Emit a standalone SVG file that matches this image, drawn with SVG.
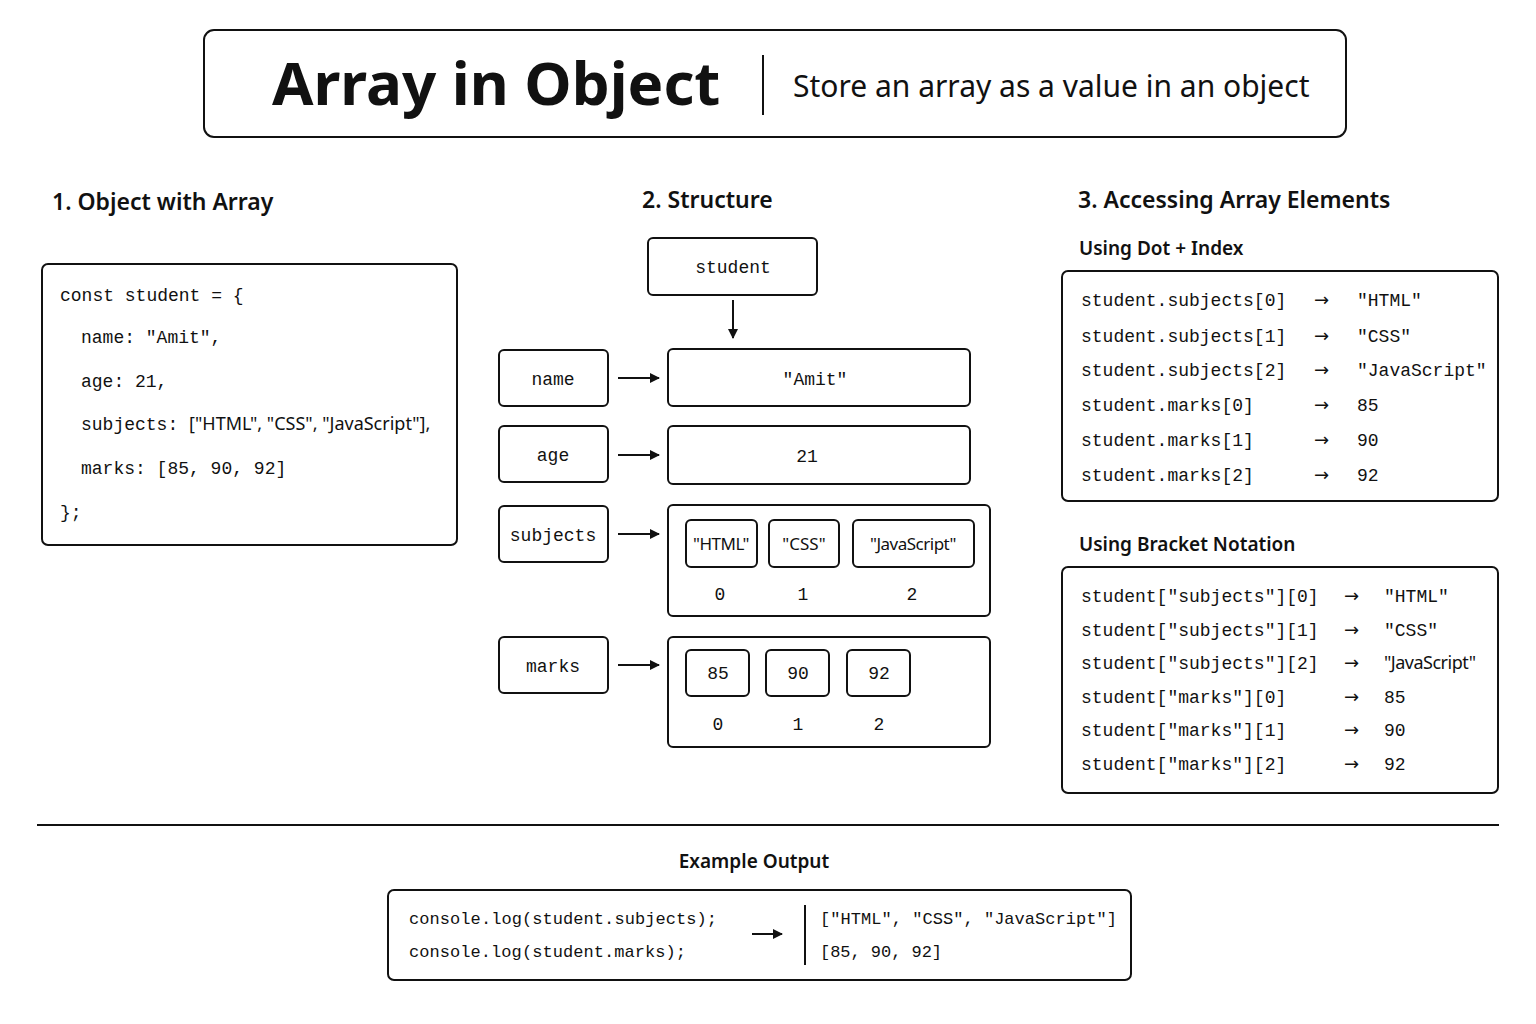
<svg xmlns="http://www.w3.org/2000/svg" width="1536" height="1024" viewBox="0 0 1536 1024">
<defs>
<marker id="ah" markerWidth="10" markerHeight="10" refX="9" refY="5" orient="auto" markerUnits="userSpaceOnUse"><path d="M0,0 L10,5 L0,10 z" fill="#111"/></marker>
<style>
.b{fill:#fff;stroke:#111;stroke-width:2}
.m{font-family:"Liberation Mono","DejaVu Sans Mono",monospace;font-size:18px;fill:#111}
.o{font-size:17px}
.s{font-family:"Noto Sans","Liberation Sans",sans-serif;fill:#111}
.a{font-family:"DejaVu Sans",sans-serif;font-size:18px;fill:#111}
.h{font-family:"Noto Sans","Liberation Sans",sans-serif;font-weight:600;font-size:23px;fill:#111}
.sh{font-family:"Noto Sans","Liberation Sans",sans-serif;font-weight:600;font-size:19px;fill:#111}
.c{text-anchor:middle}
.l{stroke:#111;stroke-width:2;fill:none}
</style>
</defs>
<rect width="1536" height="1024" fill="#fff"/>
<g id="title">
<rect class="b" x="204" y="30" width="1142" height="107" rx="10"/>
<text class="s" x="272" y="105" font-size="60" font-weight="700">Array in Object</text>
<line class="l" x1="763" y1="55" x2="763" y2="115"/>
<text class="s" x="793" y="97" font-size="30">Store an array as a value in an object</text>
</g>
<text class="h" x="52" y="210">1. Object with Array</text>
<text class="h" x="642" y="208">2. Structure</text>
<text class="h" x="1078" y="208">3. Accessing Array Elements</text>
<g id="code">
<rect class="b" x="42" y="264" width="415" height="281" rx="6"/>
<text class="m" x="60" y="301">const student = {</text>
<text class="m" x="81" y="343">name: "Amit",</text>
<text class="m" x="81" y="387">age: 21,</text>
<text class="m" x="81" y="430">subjects: <tspan class="s" font-size="18">["HTML", "CSS", "JavaScript"],</tspan></text>
<text class="m" x="81" y="474">marks: [85, 90, 92]</text>
<text class="m" x="60" y="518">};</text>
</g>
<g id="student"><rect class="b" x="648" y="238" width="169" height="57" rx="5"/><text class="m c" x="733" y="273">student</text></g>
<g id="k-name"><rect class="b" x="499" y="350" width="109" height="56" rx="5"/><text class="m c" x="553" y="385">name</text></g>
<g id="v-name"><rect class="b" x="668" y="349" width="302" height="57" rx="5"/><text class="m c" x="815" y="385">"Amit"</text></g>
<g id="k-age"><rect class="b" x="499" y="426" width="109" height="56" rx="5"/><text class="m c" x="553" y="461">age</text></g>
<g id="v-age"><rect class="b" x="668" y="426" width="302" height="58" rx="5"/><text class="m c" x="807" y="462">21</text></g>
<g id="k-subjects"><rect class="b" x="499" y="506" width="109" height="56" rx="5"/><text class="m c" x="553" y="541">subjects</text></g>
<g id="v-subjects"><rect class="b" x="668" y="505" width="322" height="111" rx="5"/>
<rect class="b" x="686" y="520" width="71" height="47" rx="5"/><rect class="b" x="769" y="520" width="70" height="47" rx="5"/><rect class="b" x="853" y="520" width="121" height="47" rx="5"/>
<text class="s c" x="721" y="550" font-size="17" letter-spacing="-0.5">"HTML"</text><text class="s c" x="804" y="550" font-size="17">"CSS"</text><text class="s c" x="913" y="550" font-size="17" letter-spacing="-0.5">"JavaScript"</text>
<text class="m c" x="720" y="600">0</text><text class="m c" x="803" y="600">1</text><text class="m c" x="912" y="600">2</text></g>
<g id="k-marks"><rect class="b" x="499" y="637" width="109" height="56" rx="5"/><text class="m c" x="553" y="672">marks</text></g>
<g id="v-marks"><rect class="b" x="668" y="637" width="322" height="110" rx="5"/>
<rect class="b" x="686" y="650" width="63" height="46" rx="5"/><rect class="b" x="766" y="650" width="63" height="46" rx="5"/><rect class="b" x="847" y="650" width="63" height="46" rx="5"/>
<text class="m c" x="718" y="679">85</text><text class="m c" x="798" y="679">90</text><text class="m c" x="879" y="679">92</text>
<text class="m c" x="718" y="730">0</text><text class="m c" x="798" y="730">1</text><text class="m c" x="879" y="730">2</text></g>
<g id="dot">
<text class="sh" x="1079" y="255">Using Dot + Index</text>
<rect class="b" x="1062" y="271" width="436" height="230" rx="6"/>
<text class="m" x="1081" y="306">student.subjects[0]</text><text class="a" x="1314" y="306">→</text><text class="m" x="1357" y="306">"HTML"</text>
<text class="m" x="1081" y="342">student.subjects[1]</text><text class="a" x="1314" y="342">→</text><text class="m" x="1357" y="342">"CSS"</text>
<text class="m" x="1081" y="376">student.subjects[2]</text><text class="a" x="1314" y="376">→</text><text class="m" x="1357" y="376">"JavaScript"</text>
<text class="m" x="1081" y="411">student.marks[0]</text><text class="a" x="1314" y="411">→</text><text class="m" x="1357" y="411">85</text>
<text class="m" x="1081" y="446">student.marks[1]</text><text class="a" x="1314" y="446">→</text><text class="m" x="1357" y="446">90</text>
<text class="m" x="1081" y="481">student.marks[2]</text><text class="a" x="1314" y="481">→</text><text class="m" x="1357" y="481">92</text>
</g>
<g id="bracket">
<text class="sh" x="1079" y="551">Using Bracket Notation</text>
<rect class="b" x="1062" y="567" width="436" height="226" rx="6"/>
<text class="m" x="1081" y="602">student["subjects"][0]</text><text class="a" x="1344" y="602">→</text><text class="m" x="1384" y="602">"HTML"</text>
<text class="m" x="1081" y="636">student["subjects"][1]</text><text class="a" x="1344" y="636">→</text><text class="m" x="1384" y="636">"CSS"</text>
<text class="m" x="1081" y="669">student["subjects"][2]</text><text class="a" x="1344" y="669">→</text><text class="s" x="1384" y="669" font-size="18" letter-spacing="-0.5">"JavaScript"</text>
<text class="m" x="1081" y="703">student["marks"][0]</text><text class="a" x="1344" y="703">→</text><text class="m" x="1384" y="703">85</text>
<text class="m" x="1081" y="736">student["marks"][1]</text><text class="a" x="1344" y="736">→</text><text class="m" x="1384" y="736">90</text>
<text class="m" x="1081" y="770">student["marks"][2]</text><text class="a" x="1344" y="770">→</text><text class="m" x="1384" y="770">92</text>
</g>
<line class="l" x1="37" y1="825" x2="1499" y2="825"/>
<g id="output">
<text class="sh c" x="754" y="868" font-size="21">Example Output</text>
<rect class="b" x="388" y="890" width="743" height="90" rx="6"/>
<text class="m o" x="409" y="924" textLength="308">console.log(student.subjects);</text>
<text class="m o" x="409" y="957" textLength="277">console.log(student.marks);</text>
<line class="l" x1="805" y1="905" x2="805" y2="965"/>
<text class="m o" x="820" y="924" textLength="297">["HTML", "CSS", "JavaScript"]</text>
<text class="m o" x="820" y="957" textLength="122">[85, 90, 92]</text>
</g>
<g id="connectors">
<line class="l" x1="733" y1="300" x2="733" y2="338" marker-end="url(#ah)"/>
<line class="l" x1="618" y1="378" x2="659" y2="378" marker-end="url(#ah)"/>
<line class="l" x1="618" y1="455" x2="659" y2="455" marker-end="url(#ah)"/>
<line class="l" x1="618" y1="534" x2="659" y2="534" marker-end="url(#ah)"/>
<line class="l" x1="618" y1="665" x2="659" y2="665" marker-end="url(#ah)"/>
<line class="l" x1="752" y1="934" x2="782" y2="934" marker-end="url(#ah)"/>
</g>
</svg>
